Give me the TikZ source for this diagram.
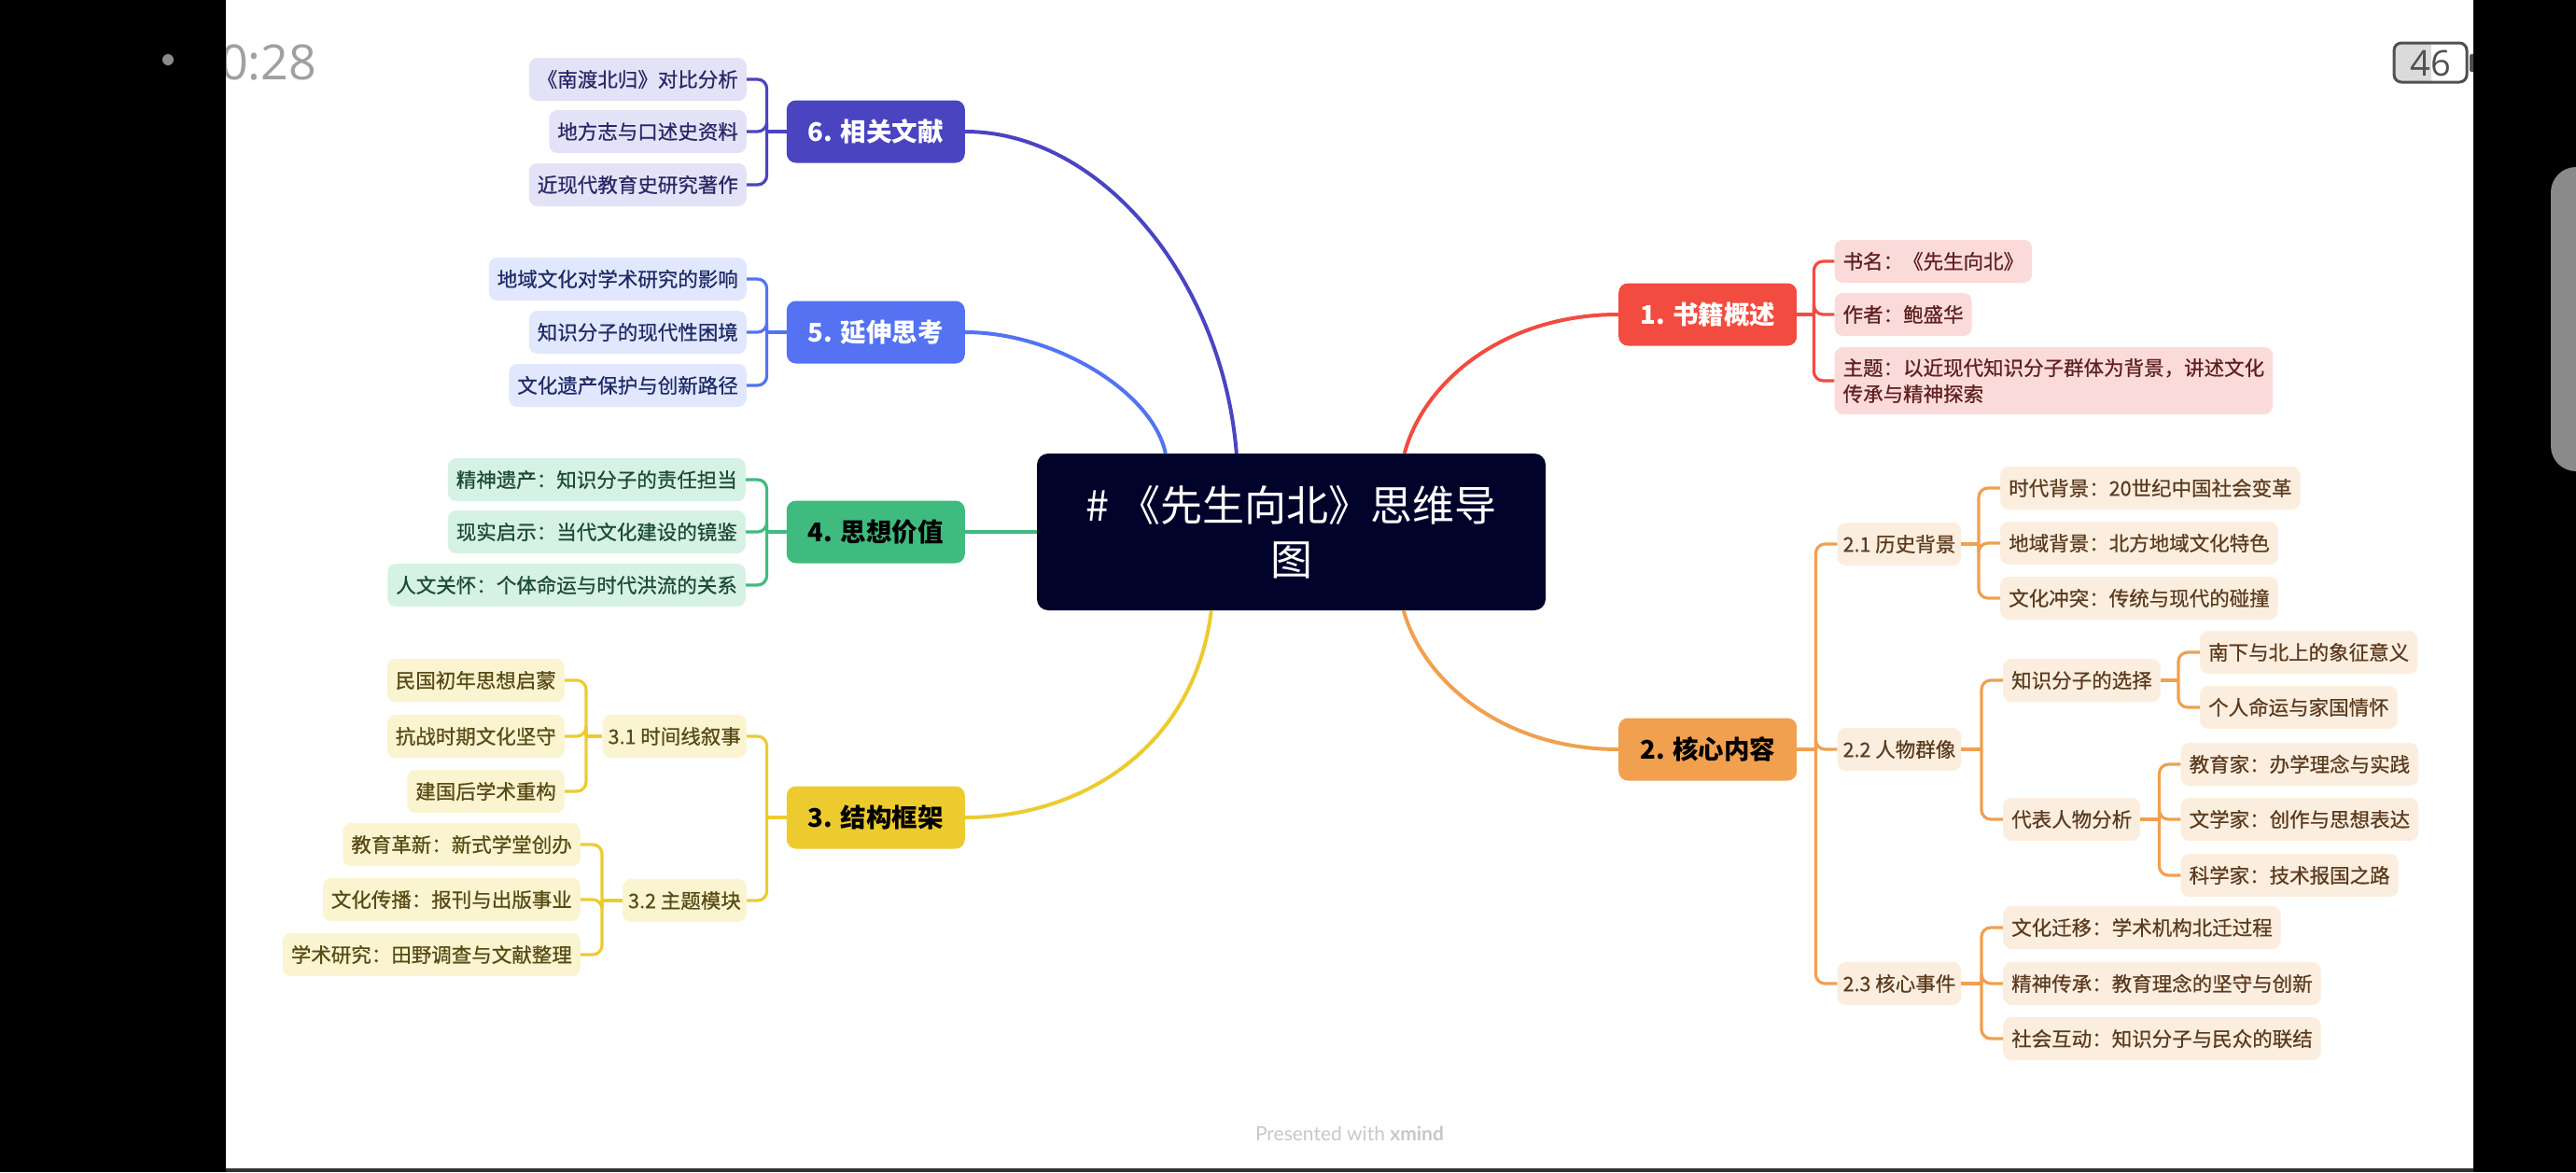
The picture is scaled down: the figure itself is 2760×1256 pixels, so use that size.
\documentclass[tikz,border=0pt]{standalone}
\usepackage{fontspec}
\setmainfont{Noto Sans CJK SC}
\newfontfamily\subfont{Noto Sans CJK SC}[FakeBold=0.6]
\newfontfamily\uifont{Open Sans}
\newfontfamily\latofont{Lato}
\usetikzlibrary{calc}
\definecolor{cnode}{HTML}{02032B}
\definecolor{c6}{HTML}{4B44C1}
\definecolor{c5}{HTML}{5472F2}
\definecolor{c4}{HTML}{3FBB7F}
\definecolor{c3}{HTML}{EDCB2F}
\definecolor{c1}{HTML}{F24B40}
\definecolor{c2}{HTML}{F0A04F}
\definecolor{l6}{HTML}{E4E2F6}
\definecolor{l5}{HTML}{E1E7FC}
\definecolor{l4}{HTML}{D5F2E5}
\definecolor{l3}{HTML}{FBF4D1}
\definecolor{l1}{HTML}{FBDBDA}
\definecolor{l2}{HTML}{FCEEDF}
\definecolor{t6}{HTML}{2B2766}
\definecolor{t5}{HTML}{1F2B66}
\definecolor{t4}{HTML}{1C4A36}
\definecolor{t3}{HTML}{574A14}
\definecolor{t1}{HTML}{5E2020}
\definecolor{t2}{HTML}{5B3B1F}
\definecolor{clockgray}{HTML}{A0A0A0}
\definecolor{batgray}{HTML}{505050}
\definecolor{scrollgray}{HTML}{8A8A8A}
\definecolor{footgray}{HTML}{C8C8C8}
\begin{document}
\begin{tikzpicture}[x=1pt,y=-1pt,
  base/.style={font=\subfont\fontsize{21.5}{28}\selectfont, inner xsep=9pt, rounded corners=9pt},
  sub/.style={base, minimum height=46pt, text height=19pt, text depth=2.6pt, inner ysep=0pt},
  numsub/.style={inner xsep=6pt},
  s6/.style={sub, fill=l6, text=t6},
  s5/.style={sub, fill=l5, text=t5},
  s4/.style={sub, fill=l4, text=t4},
  s3/.style={sub, fill=l3, text=t3},
  s1/.style={sub, fill=l1, text=t1},
  s2/.style={sub, fill=l2, text=t2},
  mainbox/.style={font=\bfseries\fontsize{27.5}{33}\selectfont, minimum width=191pt, minimum height=67pt, text height=24pt, text depth=3.3pt, inner ysep=0pt, rounded corners=10pt},
  central/.style={fill=cnode, text=white, rounded corners=12pt, minimum width=545pt, minimum height=168pt, align=center, font=\fontsize{45}{58}\selectfont},
  lnk/.style={line width=3.2pt, rounded corners=10pt},
  mlnk/.style={line width=4pt},
]
\useasboundingbox (0,0) rectangle (2760,1256);
\fill[white] (0,0) rectangle (2760,1256);

% status bar clock
\node[anchor=west, text=clockgray, font=\uifont\fontsize{52}{52}\selectfont, inner sep=0pt] (clock) at (236,67) {0:28};

% central topic
\node[central] (c) at (1383.5,570) {\# 《先生向北》思维导\\图};

% main topics
\node[mainbox, fill=c6, text=white, anchor=east] (m6) at (1034,141) {6. 相关文献};
\node[mainbox, fill=c5, text=white, anchor=east] (m5) at (1034,356) {5. 延伸思考};
\node[mainbox, fill=c4, text=black, anchor=east] (m4) at (1034,570) {4. 思想价值};
\node[mainbox, fill=c3, text=black, anchor=east] (m3) at (1034,876) {3. 结构框架};
\node[mainbox, fill=c1, text=white, anchor=west] (m1) at (1734,337) {1. 书籍概述};
\node[mainbox, fill=c2, text=black, anchor=west] (m2) at (1734,803) {2. 核心内容};

% main connectors
\draw[mlnk, c6] ([xshift=214pt]c.north west) .. controls (1310,300) and (1180,141) .. (m6.east);
\draw[mlnk, c5] ([xshift=138pt]c.north west) .. controls (1235,420) and (1130,356) .. (m5.east);
\draw[mlnk, c4] (c.west) -- (m4.east);
\draw[mlnk, c3] ([xshift=187pt]c.south west) .. controls (1280,800) and (1160,876) .. (m3.east);
\draw[mlnk, c1] ([xshift=394pt]c.north west) .. controls (1525,410) and (1610,337) .. (m1.west);
\draw[mlnk, c2] ([xshift=393pt]c.south west) .. controls (1525,730) and (1610,803) .. (m2.west);

% ---------- branch 6 ----------
\coordinate (j6) at ([xshift=-21pt]m6.west);
\node[s6, anchor=east] (s61) at (800,85) {《南渡北归》对比分析};
\node[s6, anchor=east] (s62) at (800,141) {地方志与口述史资料};
\node[s6, anchor=east] (s63) at (800,198) {近现代教育史研究著作};
\draw[lnk, c6] (m6.west) -- (j6);
\draw[lnk, c6] (j6) |- (s61.east);
\draw[lnk, c6] (j6) |- (s62.east);
\draw[lnk, c6] (j6) |- (s63.east);

% ---------- branch 5 ----------
\coordinate (j5) at ([xshift=-21pt]m5.west);
\node[s5, anchor=east] (s51) at (800,299) {地域文化对学术研究的影响};
\node[s5, anchor=east] (s52) at (800,356) {知识分子的现代性困境};
\node[s5, anchor=east] (s53) at (800,413) {文化遗产保护与创新路径};
\draw[lnk, c5] (m5.west) -- (j5);
\draw[lnk, c5] (j5) |- (s51.east);
\draw[lnk, c5] (j5) |- (s52.east);
\draw[lnk, c5] (j5) |- (s53.east);

% ---------- branch 4 ----------
\coordinate (j4) at ([xshift=-21pt]m4.west);
\node[s4, anchor=east] (s41) at (799,514) {精神遗产：知识分子的责任担当};
\node[s4, anchor=east] (s42) at (799,570) {现实启示：当代文化建设的镜鉴};
\node[s4, anchor=east] (s43) at (799,627) {人文关怀：个体命运与时代洪流的关系};
\draw[lnk, c4] (m4.west) -- (j4);
\draw[lnk, c4] (j4) |- (s41.east);
\draw[lnk, c4] (j4) |- (s42.east);
\draw[lnk, c4] (j4) |- (s43.east);

% ---------- branch 3 ----------
\coordinate (j3) at ([xshift=-21pt]m3.west);
\node[s3, numsub, anchor=east] (s31) at (800,789) {3.1 时间线叙事};
\node[s3, numsub, anchor=east] (s32) at (800,965) {3.2 主题模块};
\draw[lnk, c3] (m3.west) -- (j3);
\draw[lnk, c3] (j3) |- (s31.east);
\draw[lnk, c3] (j3) |- (s32.east);

\coordinate (j31) at (628,789);
\node[s3, anchor=east] (s311) at (605,729) {民国初年思想启蒙};
\node[s3, anchor=east] (s312) at (605,789) {抗战时期文化坚守};
\node[s3, anchor=east] (s313) at (605,848) {建国后学术重构};
\draw[lnk, c3] (s31.west) -- (j31);
\draw[lnk, c3] (j31) |- (s311.east);
\draw[lnk, c3] (j31) |- (s312.east);
\draw[lnk, c3] (j31) |- (s313.east);

\coordinate (j32) at (645,965);
\node[s3, anchor=east] (s321) at (622,905) {教育革新：新式学堂创办};
\node[s3, anchor=east] (s322) at (622,964) {文化传播：报刊与出版事业};
\node[s3, anchor=east] (s323) at (622,1023) {学术研究：田野调查与文献整理};
\draw[lnk, c3] (s32.west) -- (j32);
\draw[lnk, c3] (j32) |- (s321.east);
\draw[lnk, c3] (j32) |- (s322.east);
\draw[lnk, c3] (j32) |- (s323.east);

% ---------- branch 1 ----------
\coordinate (j1) at ([xshift=18pt]m1.east);
\node[s1, anchor=west, xshift=22pt] (s11) at (j1 |- 0,280) {书名：《先生向北》};
\node[s1, anchor=west, xshift=22pt] (s12) at (j1 |- 0,337) {作者：鲍盛华};
\node[base, fill=l1, text=t1, align=left, inner ysep=12pt, anchor=west, xshift=22pt] (s13) at (j1 |- 0,408) {主题：以近现代知识分子群体为背景，讲述文化\\传承与精神探索};
\draw[lnk, c1] (m1.east) -- (j1);
\draw[lnk, c1] (j1) |- (s11.west);
\draw[lnk, c1] (j1) |- (s12.west);
\draw[lnk, c1] (j1) |- (s13.west);

% ---------- branch 2 ----------
\coordinate (j2) at ([xshift=20pt]m2.east);
\node[s2, numsub, anchor=west, xshift=23pt] (s21) at (j2 |- 0,583) {2.1 历史背景};
\node[s2, numsub, anchor=west, xshift=23pt] (s22) at (j2 |- 0,803) {2.2 人物群像};
\node[s2, numsub, anchor=west, xshift=23pt] (s23) at (j2 |- 0,1054) {2.3 核心事件};
\draw[lnk, c2] (m2.east) -- (j2);
\draw[lnk, c2] (j2) |- (s21.west);
\draw[lnk, c2] (j2) |- (s22.west);
\draw[lnk, c2] (j2) |- (s23.west);

\coordinate (j21) at (2120,583);
\node[s2, anchor=west] (s211) at (2143,523) {时代背景：20世纪中国社会变革};
\node[s2, anchor=west] (s212) at (2143,582) {地域背景：北方地域文化特色};
\node[s2, anchor=west] (s213) at (2143,641) {文化冲突：传统与现代的碰撞};
\draw[lnk, c2] (s21.east) -- (j21);
\draw[lnk, c2] (j21) |- (s211.west);
\draw[lnk, c2] (j21) |- (s212.west);
\draw[lnk, c2] (j21) |- (s213.west);

\coordinate (j22) at (2123,803);
\node[s2, anchor=west] (s221) at (2146,729) {知识分子的选择};
\node[s2, anchor=west] (s222) at (2146,878) {代表人物分析};
\draw[lnk, c2] (s22.east) -- (j22);
\draw[lnk, c2] (j22) |- (s221.west);
\draw[lnk, c2] (j22) |- (s222.west);

\coordinate (j221) at ([xshift=19pt]s221.east);
\node[s2, anchor=west, xshift=23pt] (s2211) at (j221 |- 0,699) {南下与北上的象征意义};
\node[s2, anchor=west, xshift=23pt] (s2212) at (j221 |- 0,758) {个人命运与家国情怀};
\draw[lnk, c2] (s221.east) -- (j221);
\draw[lnk, c2] (j221) |- (s2211.west);
\draw[lnk, c2] (j221) |- (s2212.west);

\coordinate (j222) at ([xshift=20pt]s222.east);
\node[s2, anchor=west, xshift=23pt] (s2221) at (j222 |- 0,819) {教育家：办学理念与实践};
\node[s2, anchor=west, xshift=23pt] (s2222) at (j222 |- 0,878) {文学家：创作与思想表达};
\node[s2, anchor=west, xshift=23pt] (s2223) at (j222 |- 0,938) {科学家：技术报国之路};
\draw[lnk, c2] (s222.east) -- (j222);
\draw[lnk, c2] (j222) |- (s2221.west);
\draw[lnk, c2] (j222) |- (s2222.west);
\draw[lnk, c2] (j222) |- (s2223.west);

\coordinate (j23) at (2123,1054);
\node[s2, anchor=west] (s231) at (2146,994) {文化迁移：学术机构北迁过程};
\node[s2, anchor=west] (s232) at (2146,1054) {精神传承：教育理念的坚守与创新};
\node[s2, anchor=west] (s233) at (2146,1113) {社会互动：知识分子与民众的联结};
\draw[lnk, c2] (s23.east) -- (j23);
\draw[lnk, c2] (j23) |- (s231.west);
\draw[lnk, c2] (j23) |- (s232.west);
\draw[lnk, c2] (j23) |- (s233.west);

% footer
\node[text=footgray, font=\latofont\fontsize{21}{21}\selectfont, inner sep=0pt] (foot) at (1446,1215) {Presented with \textbf{xmind}};

% battery
\begin{scope}
  \clip[rounded corners=8pt] (2565,46) rectangle (2643,88);
  \fill[black!14] (2565,46) rectangle (2605,88);
\end{scope}
\draw[batgray, line width=3pt, rounded corners=8pt] (2565,46) rectangle (2643,88);
\node[text=batgray, font=\uifont\fontsize{38}{38}\selectfont, inner sep=0pt] (bat) at (2604,68) {46};
\fill[batgray, rounded corners=2pt] (2646,58) rectangle (2654,77);

% device frame
\fill[black] (0,0) rectangle (242,1256);
\fill[black] (2650,0) rectangle (2760,1256);
\fill[black!80] (242,1252) rectangle (2650,1256);
\fill[black!45] (180,64) circle (6);
\begin{scope}
  \clip (2650,0) rectangle (2760,1256);
  \fill[scrollgray, rounded corners=27pt] (2733,179) rectangle (2800,505);
\end{scope}
\end{tikzpicture}
\end{document}
